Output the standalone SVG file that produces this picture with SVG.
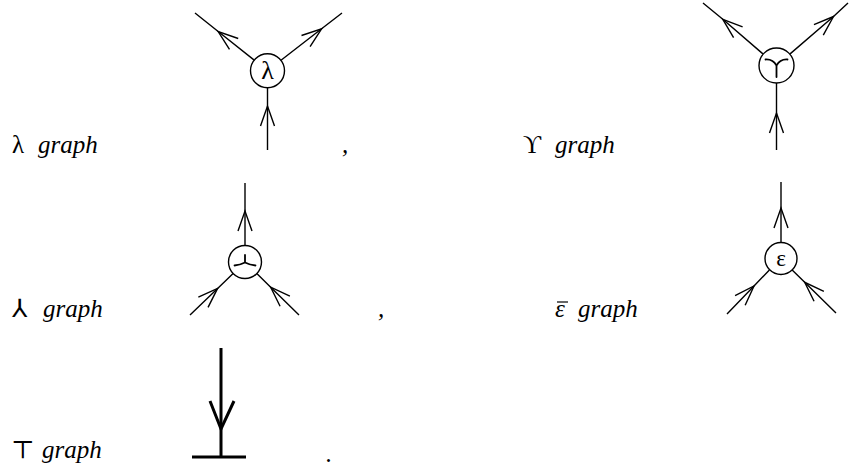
<svg xmlns="http://www.w3.org/2000/svg" width="851" height="469" viewBox="0 0 851 469">
<style>
.e{fill:none;stroke:#000;stroke-width:1.4;marker-mid:url(#ah)}
.c{fill:#fff;stroke:#000;stroke-width:1.4}
.s{fill:none;stroke:#000;stroke-width:1.8;stroke-linecap:round}
.g{font-family:"Liberation Serif","DejaVu Serif",serif;font-style:italic;font-size:25px}
.m{font-family:"Liberation Serif","DejaVu Serif",serif;font-size:25px}
.n{font-family:"Liberation Serif","DejaVu Serif",serif;font-size:23px;text-anchor:middle;dominant-baseline:central}
</style>
<defs>
<marker id="ah" markerUnits="userSpaceOnUse" markerWidth="24" markerHeight="16" viewBox="-22 -8 24 16" refX="0" refY="0" orient="auto" overflow="visible">
<path d="M-20,-7 L0,0 L-20,7" fill="none" stroke="#000" stroke-width="1.4"/>
</marker>
</defs>
<rect width="851" height="469" fill="#fff"/>
<g id="connectors">
<path class="e" d="M267.5,150 L267.5,106 L267.5,87.7"/>
<path class="e" d="M254.2,60.1 L218.2,31.5 L195,13"/>
<path class="e" d="M281,60.3 L321.6,28.8 L342,13"/>
<path class="e" d="M776.5,150 L776.5,113 L776.5,83"/>
<path class="e" d="M763.2,54.1 L722.8,19.3 L703,3"/>
<path class="e" d="M789.8,54.1 L833.5,16.5 L848,3"/>
<path class="e" d="M245,245.5 L245,211 L245,183"/>
<path class="e" d="M190,315 L217.6,288.4 L233.1,273.5"/>
<path class="e" d="M299,315 L270.7,287.2 L256.8,273.6"/>
<path class="e" d="M781,242.5 L781,208 L781,182"/>
<path class="e" d="M727,314 L754,286 L769.4,270"/>
<path class="e" d="M836,313 L804.7,282.3 L791.9,269.7"/>
</g>
<g id="node-lambda">
<circle class="c" cx="267.5" cy="70.7" r="17"/>
<text class="n" x="267.5" y="70" style="font-size:26px">λ</text>
</g>
<g id="node-upsilon">
<circle class="c" cx="776.5" cy="65.5" r="17.5"/>
<path class="s" d="M765.5,59.5 Q773,59 776.5,65.5 Q780,59 787.5,59.5 M776.5,65 L776.5,77" stroke-width="2.3"/>
</g>
<g id="node-ylambda">
<circle class="c" cx="245" cy="262" r="16.5"/>
<path class="s" d="M245,262.5 L245,255 M245,262.5 Q240,265 234.5,265.5 M245,262.5 Q250,265 255.5,265.5"/>
</g>
<g id="node-epsilon">
<circle class="c" cx="781" cy="258.5" r="16"/>
<text class="n" x="781" y="258">ε</text>
</g>
<g id="node-top">
<path d="M221,348 L221,457 M192,457 L246,457" fill="none" stroke="#000" stroke-width="3"/>
<path d="M210,401 L221,429 L234,401" fill="none" stroke="#000" stroke-width="3"/>
</g>
<g id="labels">
<text class="m" x="12" y="153">λ</text>
<text class="g" x="38" y="153">graph</text>
<text class="m" x="523" y="153">ϒ</text>
<text class="g" x="555" y="153">graph</text>
<text class="m" x="12" y="317">⅄</text>
<text class="g" x="43" y="317">graph</text>
<text class="g" x="555" y="317">ε</text>
<path d="M557,302 L568,302" stroke="#000" stroke-width="1.2"/>
<text class="g" x="578" y="317">graph</text>
<text class="m" x="11" y="458">⊤</text>
<text class="g" x="42" y="458">graph</text>
<text class="g" x="342" y="153">,</text>
<text class="g" x="378" y="317">,</text>
<text class="g" x="326" y="462">.</text>
</g>
</svg>
